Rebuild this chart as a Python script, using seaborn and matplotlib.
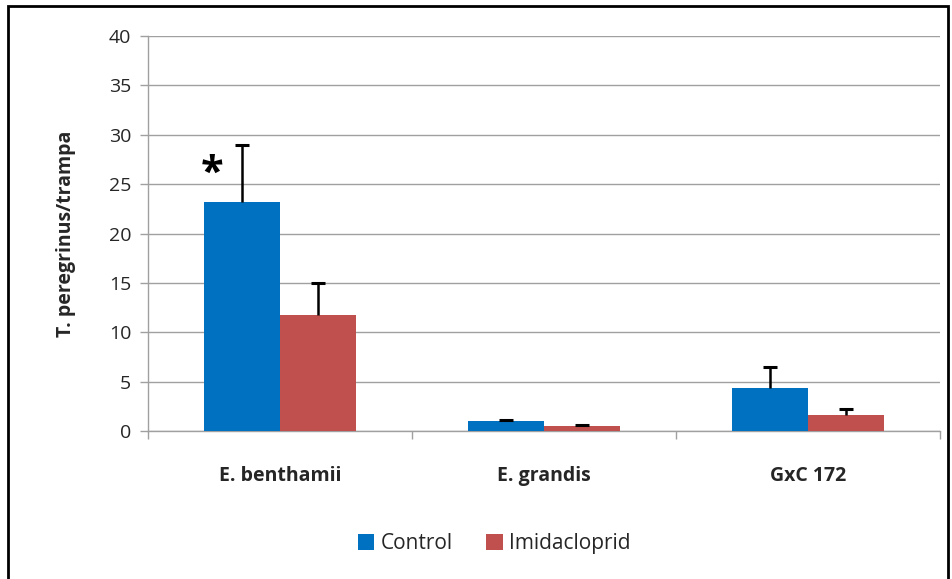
import matplotlib
matplotlib.use("Agg")
import matplotlib.pyplot as plt
import numpy as np
import pandas as pd
import seaborn as sns
from matplotlib.patches import Rectangle

# Datos
especies = ["E. benthamii", "E. grandis", "GxC 172"]
tratamientos = ["Control", "Imidacloprid"]
media_control = [23.2, 1.0, 4.35]
media_imida = [11.75, 0.5, 1.6]
error_control = [5.8, 0.15, 2.15]
error_imida = [3.2, 0.12, 0.6]

AZUL = "#0070C0"
ROJO = "#C0504D"
GRIS = "#A0A0A0"

df = pd.DataFrame({
    "especie": especies * 2,
    "tratamiento": [tratamientos[0]] * 3 + [tratamientos[1]] * 3,
    "valor": media_control + media_imida,
    "error": error_control + error_imida,
})

sns.set_theme(style="white")
plt.rcParams["font.family"] = ["Open Sans", "DejaVu Sans"]

fig = plt.figure(figsize=(9.53, 5.79), dpi=100)
ax = fig.add_axes([0.1553, 0.2556, 0.8311, 0.6822])

sns.barplot(data=df, x="especie", y="valor", hue="tratamiento",
            palette=[AZUL, ROJO], width=0.576, saturation=1,
            errorbar=None, ax=ax, linewidth=0, zorder=3)

# barras de error solo hacia arriba (sin tapa inferior)
for patch_group, errs, vals in zip(ax.containers, [error_control, error_imida],
                                   [media_control, media_imida]):
    for patch, e, v in zip(patch_group, errs, vals):
        cx = patch.get_x() + patch.get_width() / 2
        _, caps, _ = ax.errorbar(cx, v, yerr=[[0], [e]], fmt="none", ecolor="black",
                                 elinewidth=1.8, capsize=5, capthick=2.2, zorder=4)
        caps[0].set_visible(False)

# asterisco
p0 = ax.containers[0][0]
ax.text(p0.get_x() + p0.get_width() * 0.1, 26.0, "*", fontsize=30,
        fontweight="bold", ha="center", va="center", color="black")

ax.set_ylim(0, 40)
ax.set_xlim(-0.5, 2.5)
ax.set_yticks(np.arange(0, 41, 5))
ax.yaxis.grid(True, color=GRIS, linewidth=1, zorder=0)
ax.set_axisbelow(True)
for s in ["top", "right"]:
    ax.spines[s].set_visible(False)
for s in ["left", "bottom"]:
    ax.spines[s].set_color(GRIS)
    ax.spines[s].set_linewidth(1)

ax.set_xticks([-0.5, 0.5, 1.5, 2.5], minor=True)
ax.tick_params(axis="x", which="minor", length=6, width=1, color=GRIS, bottom=True)
ax.tick_params(axis="x", which="major", length=0, pad=25)
ax.tick_params(axis="y", length=6, width=1, color=GRIS, left=True, labelsize=14, pad=6)
for lab in ax.get_xticklabels():
    lab.set_fontweight("bold")
    lab.set_fontsize(14)

ax.set_xlabel("")
ax.set_ylabel("T. peregrinus/trampa", fontsize=14, fontweight="bold", labelpad=24)

handles, labels = ax.get_legend_handles_labels()
ax.legend(handles, labels, loc="center", bbox_to_anchor=(0.437, -0.285),
          ncol=2, frameon=False, fontsize=15, handlelength=0.8, handleheight=0.8,
          handletextpad=0.3, columnspacing=1.6)

# marco exterior
fig.patches.append(Rectangle((8 / 953, -0.05), 940 / 953, 1.05 - 6 / 579,
                             transform=fig.transFigure, fill=False,
                             edgecolor="black", linewidth=2))

fig.savefig("out.png", dpi=100)
